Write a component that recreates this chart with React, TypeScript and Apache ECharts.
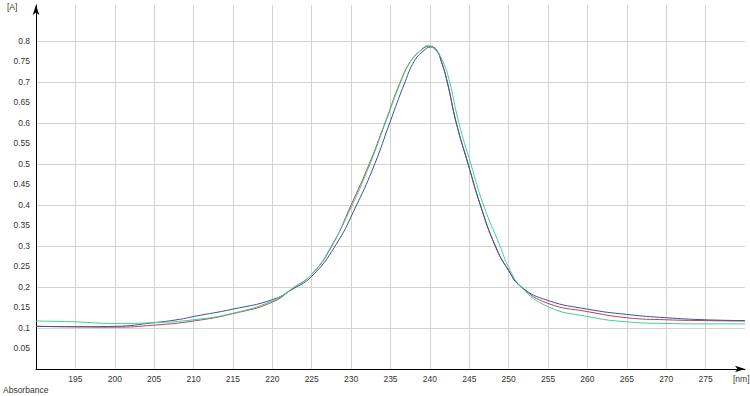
import React, { useEffect, useRef } from "react";
import * as echarts from "echarts";

// wavelength [nm], absorbance [A]
const redSeries: [number, number][] = [
  [190, 0.104], [195, 0.103], [200, 0.102], [205, 0.107], [210, 0.117], [215, 0.135],
  [220, 0.163], [222.6, 0.197], [225, 0.231], [227.5, 0.298], [230.0, 0.4], [232.3, 0.5],
  [234.3, 0.6], [236.25, 0.7], [237.55, 0.75], [239.0, 0.779], [239.9, 0.787], [240.8, 0.778],
  [241.45, 0.75], [242.2, 0.7], [243.35, 0.6], [244.85, 0.5], [246.4, 0.4], [248.3, 0.3],
  [250, 0.24], [251.6, 0.2], [255, 0.16], [260, 0.14], [265, 0.125], [270, 0.12],
  [275, 0.118], [280, 0.117],
];
const blueSeries: [number, number][] = [
  [190, 0.104], [195, 0.103], [200, 0.104], [205, 0.113], [208.2, 0.121], [210, 0.128],
  [215, 0.146], [220, 0.169], [222.6, 0.195], [225, 0.226], [227.98, 0.3], [230.7, 0.4],
  [233.0, 0.5], [234.9, 0.6], [236.85, 0.7], [238.0, 0.75], [239.1, 0.774], [240.1, 0.785],
  [240.9, 0.776], [241.45, 0.75], [242.2, 0.7], [243.35, 0.6], [244.85, 0.5], [246.4, 0.4],
  [248.3, 0.3], [250, 0.24], [251.6, 0.2], [255, 0.167], [260, 0.146], [265, 0.133],
  [270, 0.125], [275, 0.12], [280, 0.118],
];
const greenSeries: [number, number][] = [
  [190, 0.117], [195, 0.115], [200, 0.111], [205, 0.113], [210, 0.12], [215, 0.136],
  [220, 0.166], [222.6, 0.197], [225, 0.231], [227.5, 0.3], [230.15, 0.4], [232.4, 0.5],
  [234.35, 0.6], [236.3, 0.7], [237.55, 0.75], [238.9, 0.778], [239.7, 0.788], [240.6, 0.78],
  [241.65, 0.75], [242.5, 0.7], [243.68, 0.6], [245.2, 0.5], [246.8, 0.4], [248.9, 0.3],
  [250, 0.248], [251.6, 0.2], [255, 0.152], [260, 0.128], [265, 0.115], [270, 0.111],
  [275, 0.11], [280, 0.11],
];

const xMin = 190;
const xMax = 280;
const xStep = 5;
const yMin = 0;
const yMax = 0.8875;
const yStep = 0.05;

const gridColor = "#d3d3d3";
const labelFont = "Liberation Sans";

export default function App() {
  const ref = useRef<HTMLDivElement>(null);
  useEffect(() => {
    if (!ref.current) return;
    const chart = echarts.init(ref.current, undefined, { renderer: "svg" });
    const xLineCount = Math.round((xMax - xMin) / xStep) + 1;
    const xColors: string[] = [];
    for (let i = 0; i < xLineCount; i++) {
      xColors.push(i === 0 || i === xLineCount - 1 ? "transparent" : gridColor);
    }
    const yColors: string[] = [];
    for (let i = 0; i < 19; i++) {
      yColors.push(i > 0 && i % 2 === 0 && i <= 16 ? gridColor : "transparent");
    }
    const lineSeries = (name: string, data: [number, number][], color: string) => ({
      name,
      type: "line",
      data,
      smooth: 0.5,
      showSymbol: false,
      lineStyle: { color, width: 1 },
    });
    chart.setOption({
      animation: false,
      backgroundColor: "#ffffff",
      grid: { left: 36, right: 5, top: 5, bottom: 27, containLabel: false },
      xAxis: {
        type: "value",
        min: xMin,
        max: xMax,
        interval: xStep,
        axisLine: {
          show: true,
          lineStyle: { color: "#000", width: 1 },
          symbol: ["none", "arrow"],
          symbolSize: [5, 10],
        },
        axisTick: { show: false },
        axisLabel: {
          color: "#333",
          fontSize: 8.5,
          fontFamily: labelFont,
          margin: 5,
          showMinLabel: false,
          showMaxLabel: false,
          formatter: (v: number) => (v <= xMin || v >= xMax ? "" : String(v)),
        },
        splitLine: { show: true, lineStyle: { color: xColors, width: 1 } },
      },
      yAxis: {
        type: "value",
        min: yMin,
        max: yMax,
        interval: yStep,
        axisLine: {
          show: true,
          lineStyle: { color: "#000", width: 1 },
          symbol: ["none", "arrow"],
          symbolSize: [5, 10],
        },
        axisTick: { show: false },
        axisLabel: {
          color: "#333",
          fontSize: 8.5,
          fontFamily: labelFont,
          margin: 6,
          showMinLabel: false,
          formatter: (v: number) =>
            v <= 0.001 || v > 0.81 ? "" : String(+v.toFixed(2)),
        },
        splitLine: { show: true, lineStyle: { color: yColors, width: 1 } },
      },
      graphic: [
        {
          type: "text",
          left: 7,
          top: 2,
          style: { text: "[A]", fill: "#333", font: `8.5px "${labelFont}"` },
        },
        {
          type: "text",
          left: 733,
          top: 374,
          style: { text: "[nm]", fill: "#333", font: `8.5px "${labelFont}"` },
        },
        {
          type: "text",
          left: 3,
          top: 385,
          style: { text: "Absorbance", fill: "#333", font: `8.5px "${labelFont}"` },
        },
      ],
      series: [
        lineSeries("red", redSeries, "#b8434c"),
        lineSeries("blue", blueSeries, "#3e4f9e"),
        lineSeries("green", greenSeries, "#3ed38e"),
      ],
    });
    return () => chart.dispose();
  }, []);
  return (
    <div
      ref={ref}
      style={{ position: "fixed", left: 0, top: 0, width: 750, height: 396 }}
    />
  );
}
